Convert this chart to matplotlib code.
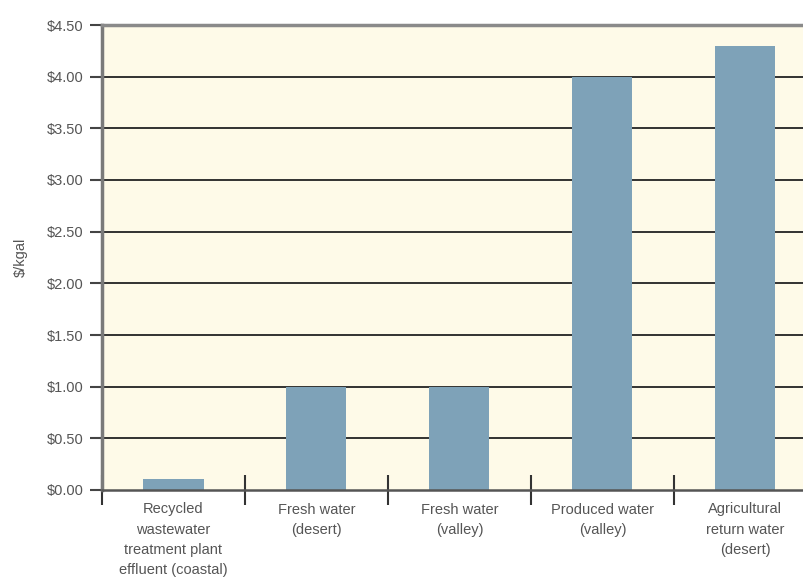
import matplotlib.pyplot as plt
import numpy as np

plt.rcParams["font.family"] = ["Liberation Sans Narrow", "Liberation Sans", "DejaVu Sans"]

categories = [
    "Recycled\nwastewater\ntreatment plant\neffluent (coastal)",
    "Fresh water\n(desert)",
    "Fresh water\n(valley)",
    "Produced water\n(valley)",
    "Agricultural\nreturn water\n(desert)",
]
cost = [0.11, 1.00, 1.00, 4.00, 4.30]
y_ticks = [0.0, 0.5, 1.0, 1.5, 2.0, 2.5, 3.0, 3.5, 4.0, 4.5]

BG = "#fefae8"
BAR = "#7ea2b8"
TEXT = "#555555"

fig = plt.figure(figsize=(8.04, 5.80), dpi=100)
ax = fig.add_axes([102 / 804, 1 - 490 / 580, 1 - 102 / 804, (490 - 25) / 580])
ax.set_facecolor(BG)

x = np.arange(len(categories))
ax.bar(x, cost, width=0.42, color=BAR, zorder=3)

for level in y_ticks[1:-1]:
    ax.axhline(level, color="#222222", linewidth=1.3, zorder=2)

ax.set_xlim(-0.5, 4.41)
ax.set_ylim(0, 4.5)

ax.set_yticks(y_ticks)
ax.set_yticklabels(["\\$%.2f" % v for v in y_ticks], color=TEXT, fontsize=10.5)
ax.tick_params(axis="y", direction="out", length=9, width=1.5, color="#444444", pad=4)

ax.set_xticks(x)
ax.set_xticklabels(categories, color=TEXT, fontsize=10.5, linespacing=1.55)
ax.tick_params(axis="x", which="major", length=0, pad=9)
ax.set_xticks(np.arange(-0.5, 4.0, 1.0), minor=True)
ax.tick_params(axis="x", which="minor", direction="inout", length=22, width=1.5, color="#333333")

ax.set_ylabel("\\$/kgal", color=TEXT, fontsize=10.5)
ax.yaxis.set_label_coords(-0.105, 0.5)

ax.spines["right"].set_visible(False)
ax.spines["top"].set_color("#8a8a8a")
ax.spines["top"].set_linewidth(2.5)
ax.spines["left"].set_color("#7a7a7a")
ax.spines["left"].set_linewidth(2.5)
ax.spines["bottom"].set_color("#555555")
ax.spines["bottom"].set_linewidth(1.8)
ax.spines["bottom"].set_zorder(4)

fig.savefig("out.png", dpi=100)
